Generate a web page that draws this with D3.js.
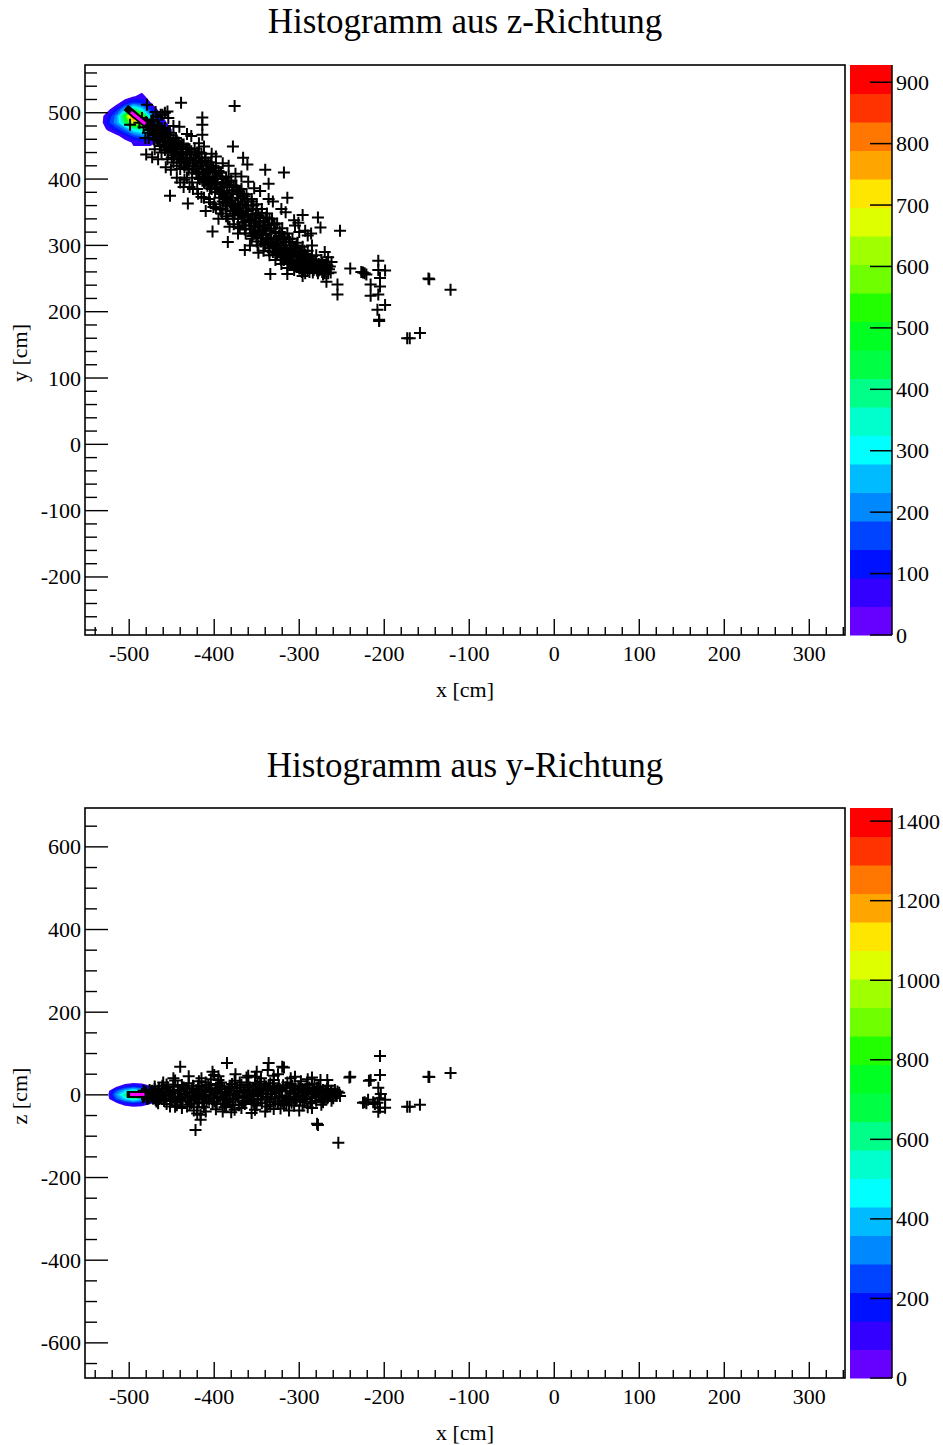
<!DOCTYPE html>
<html><head><meta charset="utf-8">
<script src="https://cdn.jsdelivr.net/npm/d3@7"></script>
<style>
body{margin:0;background:#fff;overflow:hidden;}
svg{display:block;}
text{font-family:"Liberation Serif","Times New Roman",serif;fill:#000;}
</style>
</head><body>
<svg id="c" width="943" height="1445"></svg>
<script>
// ---------------- data ----------------
const titles = ["Histogramm aus z-Richtung", "Histogramm aus y-Richtung"];
const xLabel = "x [cm]";
const yLabels = ["y [cm]", "z [cm]"];
const xDomain = [-552, 342];
const yDomainTop = [-287.5, 572];
const zDomainBottom = [-685, 694];
const xTicks = [-500, -400, -300, -200, -100, 0, 100, 200, 300];
const yTicksTop = [-200, -100, 0, 100, 200, 300, 400, 500];
const zTicksBottom = [-600, -400, -200, 0, 200, 400, 600];
const cbMaxTop = 928;
const cbMaxBottom = 1433;
const cbTicksTop = [0, 100, 200, 300, 400, 500, 600, 700, 800, 900];
const cbTicksBottom = [0, 200, 400, 600, 800, 1000, 1200, 1400];
const palette = ["#6600ff","#3300ff","#0011ff","#0044ff","#0088ff","#00bbff","#00ffff","#00ffcc","#00ff88","#00ff44",
                 "#00ff22","#22ff00","#70ff00","#a0ff00","#ddff00","#ffe600","#ffa500","#ff7700","#ff3300","#ff0000"];

// 2D histogram (contour) bins, top plot: x centers -535..-455 (10 cm), y centers 525..455 (rows top->bottom)
const gridTopX = [-535, -525, -515, -505, -495, -485, -475, -465, -455];
const gridTopY = [525, 515, 505, 495, 485, 475, 465, 455];
const gridTop = [
  [0,0,0,10,40,70,10,0,0],
  [0,0,20,90,150,130,50,0,0],
  [0,30,110,260,420,300,130,30,0],
  [10,90,210,520,928,600,260,80,0],
  [0,120,220,420,680,620,360,130,40],
  [0,60,120,200,330,380,300,160,80],
  [0,0,30,80,150,200,180,130,70],
  [0,0,0,20,55,70,60,40,10]
];
// bottom plot: x centers -535..-465, z centers 30..-30
const gridBotX = [-535, -525, -515, -505, -495, -485, -475, -465];
const gridBotZ = [30, 20, 10, 0, -10, -20, -30];
const gridBot = [
  [0,0,0,30,50,40,0,0],
  [0,0,60,150,200,160,90,40],
  [0,40,250,420,560,420,200,90],
  [0,60,350,600,1433,700,300,110],
  [0,40,250,420,560,420,200,90],
  [0,0,60,150,200,160,90,40],
  [0,0,0,30,50,40,0,0]
];
// track segments (black outline + magenta core)
const trackTop = [[-504, 508], [-476, 478]];
const trackTopCore = [[-498, 501], [-481, 483]];
const trackBot = [[-503, 1], [-479, 1]];
const trackBotCore = [[-499, 1], [-482, 1]];

// scatter points (x, y) for the top plot
const pointsTop = [
[-439,515],[-376,510],[-479,512],[-458,500],[-461,497],[-455,502],[-467,494],[-414,493],[-414,482],[-414,467],[-378,449],[-480,437],[-499,482],[-481,462],
[-452,375],[-431,363],[-340,414],[-318,410],[-336,393],[-314,372],[-366,432],[-361,422],[-296,346],[-278,342],[-275,327],[-252,322],
[-402,321],[-384,305],[-364,293],[-348,289],[-334,257],[-314,257],[-296,254],[-268,245],[-255,241],[-255,226],[-240,265],
[-227,260],[-225,259],[-223,258],[-221,256],[-207,277],[-207,263],[-199,262],[-205,251],[-216,241],[-205,238],[-216,224],[-207,226],[-199,210],[-208,203],[-206,188],[-206,186],
[-148,250],[-147,249],[-122,233],[-173,160],[-170,160],[-158,168],
[-488,485],[-485,492],[-483,478],[-480,486],[-478,470],[-476,481],[-474,475],[-472,468],[-470,478],[-468,462],[-466,470],[-465,458],[-463,466],[-461,472],[-460,455],
[-458,462],[-456,449],[-455,466],[-453,458],[-451,445],[-450,452],[-448,460],[-446,441],[-445,450],[-443,438],[-442,455],[-440,446],[-439,430],[-437,441],[-436,452],
[-434,425],[-433,437],[-431,446],[-430,420],[-428,432],[-427,442],[-425,415],[-424,428],[-422,437],[-421,408],[-420,420],[-418,432],[-417,400],[-415,415],[-414,426],
[-412,395],[-411,408],[-409,420],[-408,390],[-406,403],[-405,414],[-403,385],[-402,398],[-400,410],[-399,380],[-397,392],[-396,405],[-394,372],[-393,388],[-391,400],
[-390,366],[-388,380],[-387,395],[-385,360],[-384,374],[-382,388],[-381,352],[-379,368],[-378,383],[-376,348],[-375,362],[-373,377],[-372,340],[-370,356],[-369,371],
[-367,335],[-366,350],[-364,366],[-363,330],[-361,344],[-360,360],[-358,325],[-357,338],[-355,354],[-354,318],[-352,333],[-351,348],[-349,312],[-348,327],[-346,342],
[-345,306],[-343,322],[-342,337],[-340,300],[-339,316],[-337,331],[-336,296],[-334,310],[-333,325],[-331,290],[-330,305],[-328,320],[-327,286],[-325,300],[-324,314],
[-322,282],[-321,296],[-319,309],[-318,278],[-316,292],[-315,305],[-313,275],[-312,288],[-310,300],[-309,272],[-307,285],[-306,296],[-304,268],[-303,282],[-301,292],
[-300,265],[-298,278],[-297,288],[-295,262],[-294,275],[-292,284],[-291,268],[-289,280],[-287,272],[-285,266],[-283,276],[-281,268],[-279,262],[-277,272],[-275,266],
[-273,260],[-271,268],[-269,262],[-267,270],[-265,264],[-263,259],
[-470,445],[-462,440],[-455,430],[-448,425],[-440,415],[-432,402],[-426,395],[-420,440],[-415,438],[-410,432],[-404,425],[-398,418],[-392,410],[-386,402],[-380,398],
[-374,390],[-368,385],[-362,377],[-356,370],[-350,362],[-344,355],[-338,348],[-332,340],[-326,333],[-320,326],[-314,318],[-308,310],[-302,304],[-296,298],[-290,292],
[-419,378],[-412,372],[-405,365],[-398,356],[-391,348],[-384,340],[-377,332],[-370,326],[-363,318],[-356,310],[-349,300],[-342,292],[-335,285],[-328,278],[-321,272],
[-314,266],[-400,362],[-390,355],[-378,345],[-365,335],[-352,320],[-440,395],[-436,388],[-425,385],[-444,420],[-450,432],[-458,444],[-410,352],[-395,340],[-382,328],
[-372,318],[-358,300],[-305,330],[-290,315],[-285,300],[-300,320],[-280,285],[-262,275],[-266,282],[-270,290],[-288,260],[-293,258],
[-479,484],[-477,462],[-474,488],[-471,460],[-469,470],[-467,481],[-464,450],[-462,477],[-459,452],[-457,470],[-454,440],[-452,466],[-449,447],[-447,436],[-444,458],
[-441,425],[-438,452],[-435,418],[-432,441],[-429,428],[-426,410],[-423,446],[-419,402],[-416,423],[-413,411],[-410,398],[-407,425],[-404,392],[-401,417],[-398,387],
[-395,412],[-392,378],[-389,395],[-386,370],[-383,404],[-380,363],[-377,389],[-374,355],[-371,381],[-368,346],[-365,374],[-362,352],[-359,338],[-356,366],[-353,328],
[-350,355],[-347,318],[-344,349],[-341,327],[-338,309],[-335,340],[-332,303],[-329,331],[-326,296],[-323,320],[-320,289],[-317,312],[-314,284],[-311,305],[-308,278],
[-305,298],[-302,274],[-299,290],[-296,270],[-293,286],[-290,263],[-287,280],[-284,259],[-281,275],[-278,258],[-276,268],[-274,278],[-272,256],[-270,265],[-268,275],
[-266,258],[-264,268],
[-476,474],[-473,481],[-470,466],[-467,459],[-463,475],[-460,462],[-457,448],[-454,461],[-451,455],[-448,440],[-445,462],[-442,433],[-439,449],[-436,427],[-433,446],
[-430,414],[-427,437],[-424,420],[-421,432],[-418,410],[-415,426],[-412,404],[-409,416],[-406,396],[-403,420],[-400,393],[-397,401],[-394,381],[-391,393],[-388,372],
[-385,391],[-382,366],[-379,378],[-376,358],[-373,383],[-370,349],[-367,362],[-364,342],[-361,370],[-358,336],[-355,347],[-352,341],[-349,323],[-346,334],[-343,312],
[-340,330],[-337,304],[-334,322],[-331,298],[-328,311],[-325,293],[-322,306],[-319,286],[-316,300],[-313,281],[-310,293],[-307,276],[-304,289],[-301,282],[-298,268],
[-295,284],[-292,272],[-289,266],[-286,276],[-283,263],[-280,272],[-277,262],[-274,270],[-271,259],[-268,266],
[-472,490],[-468,474],[-465,480],[-461,465],[-458,477],[-453,470],[-450,442],[-446,455],[-443,445],[-439,438],[-436,431],[-432,424],[-429,445],[-425,424],[-422,416],
[-418,440],[-414,400],[-411,428],[-408,412],[-405,386],[-402,410],[-399,400],[-396,385],[-393,410],[-390,382],[-387,364],[-384,395],[-381,372],[-378,360],[-375,388],
[-372,362],[-369,352],[-366,378],[-363,356],[-360,345],[-357,330],[-354,360],[-351,336],[-348,345],[-345,316],[-342,330],[-339,342],[-336,310],[-333,318],[-330,333],
[-327,302],[-324,290],[-321,318],[-318,296],[-315,292],[-312,310],[-309,282],[-306,290],[-303,300],[-300,276],[-297,272],[-294,292],[-291,277],[-288,270],[-285,284],
[-282,266],[-279,270],[-276,264],[-273,272],[-270,258],
[-469,501],[-463,497],[-454,492],[-448,480],[-441,479],[-432,468],[-427,465],[-418,454],[-412,449],[-403,438],[-398,434],[-390,424],[-383,420],[-375,408],[-368,404],
[-360,396],[-353,386],[-346,382],[-336,370],[-331,366],[-321,355],[-316,350],[-306,338],[-301,334],[-293,322],[-286,318],
[-473,433],[-466,430],[-457,418],[-451,414],[-444,402],[-435,399],[-429,388],[-420,385],[-415,373],[-406,370],[-401,358],[-393,354],[-386,344],[-377,340],[-372,328],
[-364,324],[-355,314],[-350,306],[-341,302],[-335,291],[-326,288],[-321,278],[-311,274],[-306,263],[-297,260]
];

// scatter points (x, z) for the bottom plot
const pointsBot = [
[-485,2],[-482,-4],[-480,6],[-477,-8],[-475,3],[-473,10],[-471,-3],[-469,-12],[-467,5],[-465,14],[-463,-6],[-461,1],[-459,-15],[-457,8],[-455,18],
[-453,-2],[-451,-10],[-449,12],[-447,4],[-445,-18],[-443,20],[-441,-5],[-439,9],[-437,-14],[-435,2],[-433,16],[-431,-8],[-429,6],[-427,-20],[-425,22],
[-423,-3],[-421,11],[-419,-12],[-417,4],[-415,18],[-413,-6],[-411,8],[-409,-16],[-407,24],[-405,0],[-403,12],[-401,-9],[-399,5],[-397,-22],[-395,15],
[-393,-4],[-391,20],[-389,-13],[-387,7],[-385,-1],[-383,14],[-381,-18],[-379,26],[-377,3],[-375,-8],[-373,10],[-371,-25],[-369,18],[-367,-5],[-365,6],
[-363,-14],[-361,22],[-359,1],[-357,-10],[-355,13],[-353,-20],[-351,8],[-349,-3],[-347,17],[-345,-12],[-343,4],[-341,25],[-339,-7],[-337,11],[-335,-17],
[-333,2],[-331,19],[-329,-9],[-327,6],[-325,-22],[-323,14],[-321,-2],[-319,23],[-317,-13],[-315,9],[-313,-5],[-311,16],[-309,-19],[-307,3],[-305,12],
[-303,-8],[-301,20],[-299,-14],[-297,5],[-295,-1],[-293,15],[-291,-11],[-289,8],[-287,-17],[-285,2],[-283,13],[-281,-6],[-279,18],[-277,-3],[-275,7],
[-273,-12],[-271,4],[-269,10],[-267,-8],[-265,1],[-263,6],[-261,-4],[-259,3],[-256,-2],[-253,5],
[-460,30],[-452,-28],[-446,35],[-438,-32],[-430,28],[-424,-38],[-418,33],[-412,-30],[-404,38],[-398,-35],[-392,30],[-386,-27],[-376,34],[-368,-32],[-360,29],
[-352,-36],[-346,32],[-338,-28],[-330,36],[-322,-33],[-314,30],[-306,-26],[-298,33],[-290,-30],[-282,27],[-274,-24],[-266,22],[-420,-45],[-395,45],[-380,-42],
[-362,42],[-340,-40],[-310,40],[-300,-38],[-470,20],[-466,-20],[-456,25],[-444,-25],[-432,-28],[-410,30],[-388,-30],[-370,30],[-350,-26],[-334,28],[-318,-25],
[-440,68],[-385,77],[-336,77],[-320,68],[-318,66],[-402,56],[-337,60],[-422,-85],[-416,-48],[-416,-60],[-446,-29],[-279,-70],[-278,-73],[-254,-116],
[-240,44],[-216,36],[-205,94],[-241,42],[-218,34],[-205,48],[-207,17],[-148,44],[-147,43],[-122,53],[-173,-29],[-170,-29],[-158,-24],
[-225,-19],[-223,-18],[-221,-20],[-219,-12],[-208,-19],[-205,-31],[-199,-31],[-199,-12],[-207,-41],[-267,36],[-211,-22],[-213,-18],[-206,-8],[-204,2],
[-484,-6],[-481,8],[-478,-2],[-476,12],[-472,-9],[-470,4],[-468,-16],[-466,10],[-462,-1],[-460,16],[-458,-8],[-454,6],[-450,-14],[-448,20],[-446,-4],
[-442,12],[-440,-10],[-436,18],[-434,-6],[-432,8],[-428,-14],[-426,14],[-422,-8],[-420,2],[-418,-18],[-414,12],[-412,-2],[-410,18],[-406,-12],[-404,6],
[-402,-20],[-398,10],[-396,-6],[-394,22],[-390,-10],[-388,14],[-384,-16],[-382,4],[-380,20],[-378,-12],[-374,16],[-372,-4],[-370,8],[-366,-18],[-364,12],
[-362,-2],[-358,18],[-356,-14],[-354,4],[-350,22],[-348,-10],[-346,10],[-344,-20],[-342,14],[-338,-4],[-336,20],[-334,-12],[-332,8],[-328,-16],[-326,16],
[-324,-6],[-320,10],[-318,-20],[-316,18],[-312,-10],[-310,4],[-308,22],[-304,-14],[-302,10],[-300,-4],[-296,14],[-294,-18],[-292,6],[-288,18],[-286,-8],
[-284,10],[-280,-14],[-278,8],[-276,-6],[-272,12],[-270,-10],[-268,4],[-264,-2],[-262,10],[-260,-8],[-257,2],[-255,8],[-252,-3],
[-483,10],[-479,-10],[-474,-4],[-470,14],[-465,-10],[-461,22],[-456,-22],[-452,8],[-447,-8],[-443,-12],[-438,24],[-434,14],[-429,-24],[-424,6],[-419,22],
[-414,-20],[-410,-4],[-405,16],[-400,-16],[-396,26],[-391,4],[-387,-20],[-382,18],[-378,-24],[-373,-2],[-368,24],[-364,-22],[-359,8],[-354,-16],[-349,26],
[-344,2],[-339,20],[-334,-24],[-329,14],[-324,22],[-320,-16],[-315,-24],[-310,26],[-305,-10],[-300,16],[-296,-26],[-291,24],[-286,-20],[-281,4],[-277,20],
[-272,-18],[-267,14],[-262,-14],[-258,12],
[-430,45],[-415,40],[-400,48],[-375,50],[-360,46],[-345,40],[-325,50],[-305,44],[-290,38],[-285,42],[-275,36],[-350,56],[-330,46],[-448,40],[-395,36],[-352,44],
[-420,-30],[-410,-40],[-390,-40],[-376,-36],[-356,-44],[-330,-34],[-312,-38],[-285,-32]
];

// ---------------- drawing ----------------
const svg = d3.select("#c");

function plot(cfg) {
  const {top, bottom, left, right, yDomain, yTicks, yMinorStep, title, titleY, yLabel, grid, gx, gy, zMax, cbTicks, points, track, trackCore, clipId} = cfg;
  const x = d3.scaleLinear().domain(xDomain).range([left, right]);
  const y = d3.scaleLinear().domain(yDomain).range([bottom, top]);
  const g = svg.append("g");

  g.append("clipPath").attr("id", clipId).append("rect")
    .attr("x", left).attr("y", top).attr("width", right - left).attr("height", bottom - top);
  const inner = g.append("g").attr("clip-path", `url(#${clipId})`);

  // contours
  const nx = gx.length, ny = gy.length;
  const dx = gx[1] - gx[0], dy = gy[0] - gy[1];
  const x0 = gx[0] - dx / 2, yTop = gy[0] + dy / 2;
  const values = grid.flat();
  const step = zMax / 20;
  const levels = d3.range(1, 20).map(k => k * step);
  const contours = d3.contours().size([nx, ny]).thresholds(levels)(values);
  const proj = d3.geoTransform({point: function(u, v) { this.stream.point(x(x0 + u * dx), y(yTop - v * dy)); }});
  const path = d3.geoPath(proj);
  contours.forEach((c, i) => {
    if (c.coordinates.length) inner.append("path").attr("d", path(c)).attr("fill", palette[i + 1]).attr("stroke", "none");
  });

  // scatter markers
  inner.append("g").selectAll("path").data(points).join("path")
    .attr("d", d => `M${x(d[0]) - 6},${y(d[1])}H${x(d[0]) + 6}M${x(d[0])},${y(d[1]) - 6}V${y(d[1]) + 6}`)
    .attr("stroke", "#000").attr("stroke-width", 2).attr("fill", "none");

  // track
  inner.append("line").attr("x1", x(track[0][0])).attr("y1", y(track[0][1])).attr("x2", x(track[1][0])).attr("y2", y(track[1][1]))
    .attr("stroke", "#000").attr("stroke-width", 7);
  inner.append("line").attr("x1", x(trackCore[0][0])).attr("y1", y(trackCore[0][1])).attr("x2", x(trackCore[1][0])).attr("y2", y(trackCore[1][1]))
    .attr("stroke", "#ff00ff").attr("stroke-width", 3);

  // frame
  g.append("rect").attr("x", left).attr("y", top).attr("width", right - left).attr("height", bottom - top)
    .attr("fill", "none").attr("stroke", "#000").attr("stroke-width", 1.6);

  // x ticks
  const xMinor = d3.range(-540, 341, 20);
  g.append("g").selectAll("line").data(xMinor).join("line")
    .attr("x1", d => x(d)).attr("x2", d => x(d)).attr("y1", bottom).attr("y2", d => bottom - (xTicks.includes(d) ? 16 : 8))
    .attr("stroke", "#000").attr("stroke-width", 1.4);
  g.append("g").selectAll("text").data(xTicks).join("text")
    .attr("x", d => x(d)).attr("y", bottom + 26).attr("text-anchor", "middle").attr("font-size", 22)
    .text(d => d);
  g.append("text").attr("x", 465).attr("y", bottom + 62).attr("text-anchor", "middle").attr("font-size", 22).text(xLabel);

  // y ticks
  const yMin = Math.ceil(yDomain[0] / yMinorStep) * yMinorStep;
  const yMinor = d3.range(yMin, yDomain[1], yMinorStep);
  g.append("g").selectAll("line").data(yMinor).join("line")
    .attr("y1", d => y(d)).attr("y2", d => y(d)).attr("x1", left).attr("x2", d => left + (yTicks.includes(d) ? 23 : 12))
    .attr("stroke", "#000").attr("stroke-width", 1.4);
  g.append("g").selectAll("text").data(yTicks).join("text")
    .attr("x", left - 4).attr("y", d => y(d) + 7.5).attr("text-anchor", "end").attr("font-size", 22)
    .text(d => d);
  g.append("text").attr("transform", `translate(27,${(top + bottom) / 2 + 3}) rotate(-90)`)
    .attr("text-anchor", "middle").attr("font-size", 22).text(yLabel);

  // title
  g.append("text").attr("x", 465).attr("y", titleY).attr("text-anchor", "middle").attr("font-size", 35).text(title);

  // color bar
  const cb = d3.scaleLinear().domain([0, zMax]).range([bottom, top]);
  const cbL = 850, cbR = 892;
  g.append("g").selectAll("rect").data(d3.range(20)).join("rect")
    .attr("x", cbL).attr("width", cbR - cbL)
    .attr("y", k => cb((k + 1) * step)).attr("height", k => cb(k * step) - cb((k + 1) * step) + 0.5)
    .attr("fill", k => palette[k]);
  g.append("line").attr("x1", cbR).attr("x2", cbR).attr("y1", top).attr("y2", bottom).attr("stroke", "#000").attr("stroke-width", 1.5);
  g.append("g").selectAll("line").data(cbTicks).join("line")
    .attr("x1", cbR - 22).attr("x2", cbR).attr("y1", d => cb(d)).attr("y2", d => cb(d))
    .attr("stroke", "#000").attr("stroke-width", 1.5);
  g.append("g").selectAll("text").data(cbTicks).join("text")
    .attr("x", 896).attr("y", d => cb(d) + 7.5).attr("font-size", 22).text(d => d);
}

plot({top: 65, bottom: 635, left: 85, right: 845, yDomain: yDomainTop, yTicks: yTicksTop, yMinorStep: 20,
  title: titles[0], titleY: 33, yLabel: yLabels[0], grid: gridTop, gx: gridTopX, gy: gridTopY, zMax: cbMaxTop,
  cbTicks: cbTicksTop, points: pointsTop, track: trackTop, trackCore: trackTopCore, clipId: "clipTop"});
plot({top: 808, bottom: 1378, left: 85, right: 845, yDomain: zDomainBottom, yTicks: zTicksBottom, yMinorStep: 50,
  title: titles[1], titleY: 777, yLabel: yLabels[1], grid: gridBot, gx: gridBotX, gy: gridBotZ, zMax: cbMaxBottom,
  cbTicks: cbTicksBottom, points: pointsBot, track: trackBot, trackCore: trackBotCore, clipId: "clipBot"});
</script>
</body></html>
